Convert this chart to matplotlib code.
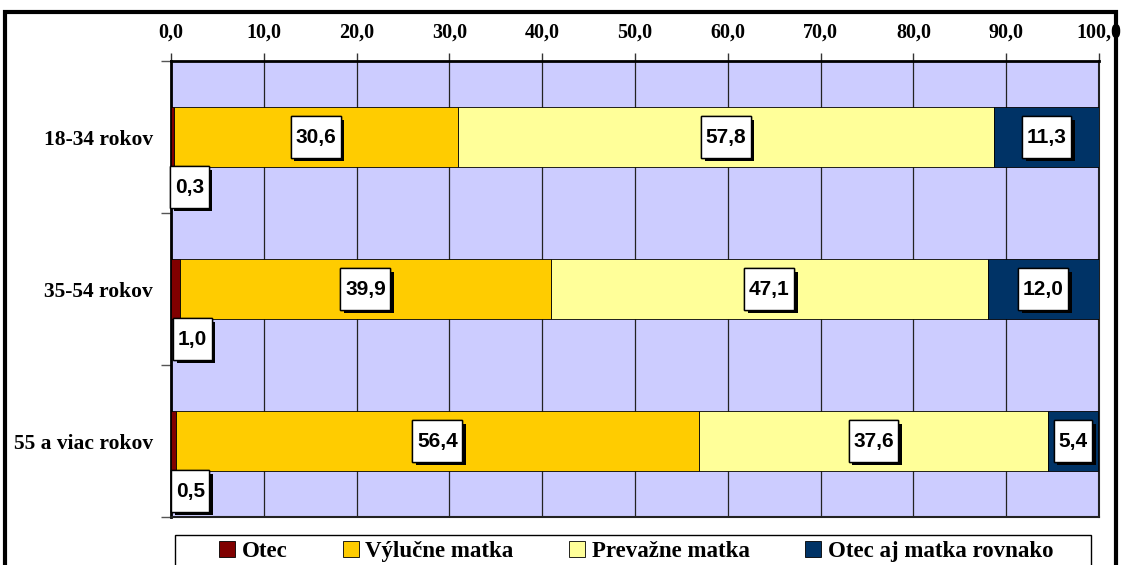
import matplotlib
matplotlib.use("Agg")
import matplotlib.pyplot as plt
from matplotlib.patches import Rectangle
from matplotlib.path import Path
from matplotlib import patheffects
import numpy as np

categories = ["18-34 rokov", "35-54 rokov", "55 a viac rokov"]
series_names = ["Otec", "Výlučne matka", "Prevažne matka", "Otec aj matka rovnako"]
otec = [0.3, 1.0, 0.5]
vylucne = [30.6, 39.9, 56.4]
prevazne = [57.8, 47.1, 37.6]
obaja = [11.3, 12.0, 5.4]
colors = ["#800000", "#FFCC00", "#FFFF99", "#003366"]
xticks = [0, 10, 20, 30, 40, 50, 60, 70, 80, 90, 100]

W, H = 1124, 565
fig = plt.figure(figsize=(W / 100, H / 100), dpi=100)
serif = ["Liberation Serif", "DejaVu Serif"]
sans = ["Liberation Sans", "DejaVu Sans"]


def label_box(x0, y0, width, height, mutation_size):
    padx = 0.22 * mutation_size
    pady = 0.55 * mutation_size
    xa, xb = x0 - padx, x0 + width + padx
    ya, yb = y0 - pady, y0 + height + pady
    return Path([(xa, ya), (xb, ya), (xb, yb), (xa, yb), (xa, ya)],
                [Path.MOVETO, Path.LINETO, Path.LINETO, Path.LINETO, Path.CLOSEPOLY])


# outer frame
fig.patches.append(Rectangle((5 / W, -0.05), (1116 - 5) / W, 1.05 - 12 / H,
                             transform=fig.transFigure, fill=False,
                             edgecolor="black", linewidth=3, zorder=0))
# legend frame
fig.patches.append(Rectangle((175 / W, -0.05), (1091 - 175) / W, 0.05 + 1 - 535 / H,
                             transform=fig.transFigure, fill=True, facecolor="white",
                             edgecolor="black", linewidth=1, zorder=1))

ax = fig.add_axes([171 / W, 1 - 517 / H, (1099 - 171) / W, (517 - 61) / H])
ax.set_facecolor("#CCCCFF")

y = np.arange(len(categories))
series = [otec, vylucne, prevazne, obaja]
left = np.zeros(len(categories))
bar_h = 0.39
for name, vals, col in zip(series_names, series, colors):
    vals = np.array(vals)
    ax.barh(y, vals, left=left, height=bar_h, color=col, edgecolor="black",
            linewidth=0.6, label=name, zorder=3)
    for i, v in enumerate(vals):
        cx = left[i] + v / 2
        txt = f"{v:.1f}".replace(".", ",")
        off = (17, -50) if name == "Otec" else (0, 0)
        t = ax.annotate(txt, xy=(cx, y[i]), xytext=off, textcoords="offset pixels",
                        ha="center", va="center", fontsize=15, fontweight="bold",
                        family=sans, color="black", annotation_clip=False,
                        bbox=dict(boxstyle=label_box, fc="white", ec="black", lw=1),
                        zorder=6)
        t.get_bbox_patch().set_path_effects(
            [patheffects.withSimplePatchShadow(offset=(2.5, -2.5),
                                               shadow_rgbFace="black", alpha=1.0),
             patheffects.Normal()])
    left = left + vals

ax.set_xlim(0, 100)
ax.set_ylim(2.5, -0.5)
ax.set_xticks(xticks)
ax.set_xticklabels([f"{t:.1f}".replace(".", ",") for t in xticks],
                   fontsize=14.5, fontweight="bold", family=serif)
ax.xaxis.tick_top()
ax.tick_params(axis="x", direction="out", length=6, width=1, color="#333333", pad=7.5,
               top=True, bottom=False)
ax.set_yticks([-0.5, 0.5, 1.5, 2.5])
ax.set_yticks(y, minor=True)
ax.set_yticklabels([])
ax.set_yticklabels(categories, minor=True, fontsize=15.5, fontweight="bold",
                   family=serif)
ax.tick_params(axis="y", which="major", direction="out", length=7, width=1,
               color="#555555")
ax.tick_params(axis="y", which="minor", length=0, pad=13)
ax.grid(axis="x", color="#222222", linewidth=0.9, zorder=1)
ax.set_axisbelow(True)
for s in ["top", "left"]:
    ax.spines[s].set_linewidth(2)
    ax.spines[s].set_color("black")
for s in ["right", "bottom"]:
    ax.spines[s].set_linewidth(1.5)
    ax.spines[s].set_color("#222222")

leg = fig.legend(loc="upper left", ncol=4, mode="expand",
                 bbox_to_anchor=(214 / W, 1 - 536 / H - 0.06, (1058 - 214) / W, 0.06),
                 borderaxespad=0, frameon=False,
                 handlelength=0.7, handleheight=0.7, handletextpad=0.3,
                 prop=dict(family=serif, weight="bold", size=16.5),
                 borderpad=0.2)
leg.set_zorder(2)

fig.savefig("out.png", dpi=100)
